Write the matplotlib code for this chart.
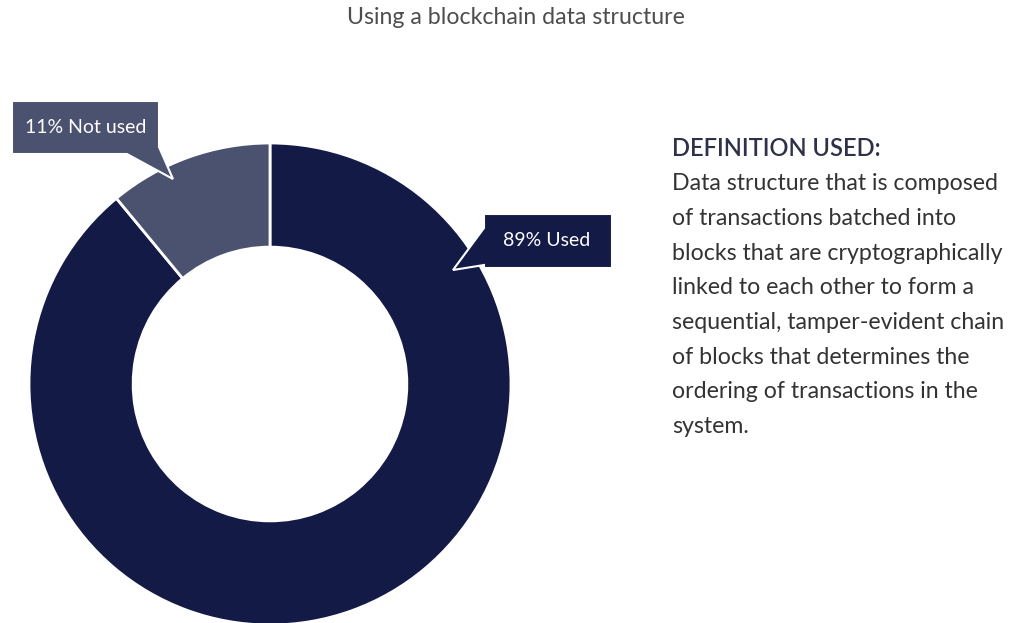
import numpy as np
import matplotlib
matplotlib.use("Agg")
from matplotlib import pyplot as plt
from matplotlib.patches import Polygon

labels = ["Used", "Not used"]
values = [89, 11]
colors = ["#131a46", "#4a526f"]
title = "Using a blockchain data structure"
heading = "DEFINITION USED:"
body_lines = [
    "Data structure that is composed",
    "of transactions batched into",
    "blocks that are cryptographically",
    "linked to each other to form a",
    "sequential, tamper-evident chain",
    "of blocks that determines the",
    "ordering of transactions in the",
    "system.",
]

plt.rcParams['font.family'] = ['Lato', 'DejaVu Sans']

W, H = 1026, 623
fig = plt.figure(figsize=(W / 100, H / 100), dpi=100)

# donut centre (270, 384) px, outer radius 241 px
cx, cy, R = 270, 384, 241
ax = fig.add_axes([(cx - R) / W, (H - cy - R) / H, 2 * R / W, 2 * R / H])

wedges, _ = ax.pie(values, colors=colors, startangle=90, counterclock=False,
                   radius=1, wedgeprops=dict(width=0.432, edgecolor='white', linewidth=2))
for w in wedges:
    w.set_clip_on(False)
ax.set_xlim(-1, 1)
ax.set_ylim(-1, 1)
ax.set_aspect('equal')
ax.axis('off')


def px(x, y):
    return ((x - cx) / R, (cy - y) / R)


# callout for "Not used"
box1 = [px(12, 101), px(159, 101), px(159, 147), px(173, 179), px(127, 154), px(12, 154)]
ax.add_patch(Polygon(box1, closed=True, facecolor=colors[1], edgecolor='white',
                     linewidth=1.5, clip_on=False, zorder=5))
tx, ty = px(86, 127)
ax.text(tx, ty, f"{values[1]}% {labels[1]}", color='white', fontsize=14,
        ha='center', va='center', zorder=6, clip_on=False)

# callout for "Used"
box2 = [px(484, 214), px(612, 214), px(612, 268), px(484, 268), px(484, 265),
        px(453, 270), px(484, 228)]
ax.add_patch(Polygon(box2, closed=True, facecolor=colors[0], edgecolor='white',
                     linewidth=1.5, clip_on=False, zorder=5))
tx, ty = px(547, 240)
ax.text(tx, ty, f"{values[0]}% {labels[0]}", color='white', fontsize=14,
        ha='center', va='center', zorder=6, clip_on=False)

fig.text(516 / W, 1 - 18 / H, title, ha='center', va='center', fontsize=16.7,
         color='#4d4d4d')
fig.text(672 / W, 1 - 148 / H, heading, ha='left', va='center', fontsize=17,
         color='#2e3148', fontweight='semibold')
for i, line in enumerate(body_lines):
    fig.text(672 / W, 1 - (184 + i * 34.6) / H, line, ha='left', va='center',
             fontsize=16.7, color='#333333')

fig.savefig("out.png", dpi=100)
